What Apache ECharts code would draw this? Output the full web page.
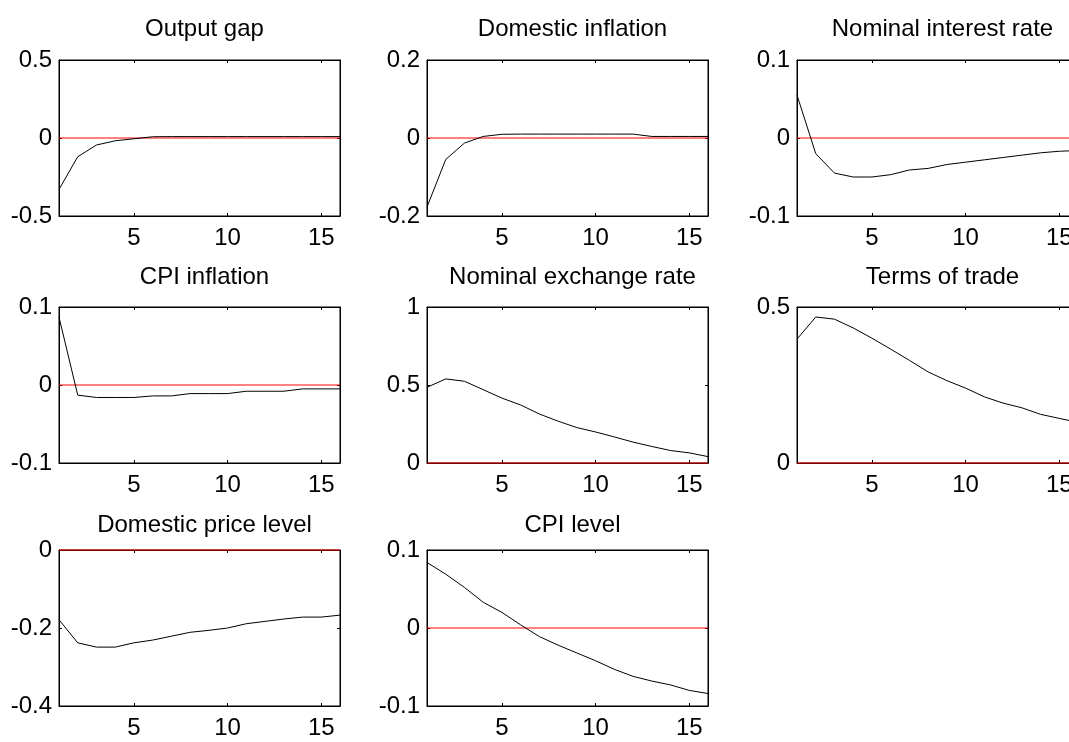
<!DOCTYPE html>
<html>
<head>
<meta charset="utf-8">
<script src="https://cdn.jsdelivr.net/npm/echarts@6.0.0/dist/echarts.min.js"></script>
<style>
  body { margin: 0; background: #fff; }
  #myChart { width: 1069px; height: 742px; }
</style>
</head>
<body>
<div id="myChart"></div>
<script>
  // impulse responses, periods 1..16
  var periods = [1, 2, 3, 4, 5, 6, 7, 8, 9, 10, 11, 12, 13, 14, 15, 16];
  var xTicks = [5, 10, 15];
  var zeroLevel = 0;

  var titles = ['Output gap', 'Domestic inflation', 'Nominal interest rate',
    'CPI inflation', 'Nominal exchange rate', 'Terms of trade',
    'Domestic price level', 'CPI level'];

  var outputGap = [-0.33, -0.12, -0.045, -0.018, -0.005, 0.008, 0.009, 0.009, 0.009, 0.009, 0.009, 0.009, 0.009, 0.009, 0.009, 0.009];
  var domesticInflation = [-0.177, -0.055, -0.013, 0.004, 0.0095, 0.01, 0.01, 0.01, 0.01, 0.01, 0.01, 0.01, 0.004, 0.004, 0.004, 0.004];
  var nominalRate = [0.055, -0.020, -0.045, -0.050, -0.050, -0.047, -0.041, -0.039, -0.034, -0.031, -0.028, -0.025, -0.022, -0.019, -0.017, -0.016];
  var cpiInflation = [0.087, -0.013, -0.016, -0.016, -0.016, -0.014, -0.014, -0.011, -0.011, -0.011, -0.008, -0.008, -0.008, -0.005, -0.005, -0.005];
  var exchangeRate = [0.485, 0.539, 0.524, 0.47, 0.416, 0.372, 0.314, 0.268, 0.227, 0.199, 0.167, 0.134, 0.106, 0.080, 0.065, 0.041];
  var termsOfTrade = [0.397, 0.468, 0.461, 0.433, 0.400, 0.365, 0.329, 0.292, 0.264, 0.240, 0.212, 0.192, 0.177, 0.156, 0.143, 0.13];
  var domesticPrice = [-0.179, -0.238, -0.249, -0.249, -0.238, -0.231, -0.221, -0.211, -0.206, -0.2, -0.189, -0.183, -0.177, -0.172, -0.172, -0.167];
  var cpiLevel = [0.084, 0.069, 0.052, 0.033, 0.020, 0.004, -0.011, -0.022, -0.032, -0.042, -0.053, -0.062, -0.068, -0.073, -0.080, -0.084];

  var allSeries = [outputGap, domesticInflation, nominalRate, cpiInflation,
    exchangeRate, termsOfTrade, domesticPrice, cpiLevel];

  var yMin = [-0.5, -0.2, -0.1, -0.1, 0, 0, -0.4, -0.1];
  var yMax = [0.5, 0.2, 0.1, 0.1, 1, 0.5, 0, 0.1];
  var yStep = [0.5, 0.2, 0.1, 0.1, 0.5, 0.5, 0.2, 0.1];

  // subplot layout (pixels)
  var colLeft = [59, 427, 797];
  var rowTop = [60, 307, 550];
  var boxW = 281;
  var boxH = 156;
  var titleTop = [12, 260, 508];

  var font = "'Liberation Sans', Arial, sans-serif";
  var grids = [], xAxes = [], yAxes = [], series = [], titleList = [];

  for (var i = 0; i < allSeries.length; i++) {
    var r = Math.floor(i / 3), c = i % 3;
    grids.push({
      left: colLeft[c], top: rowTop[r], width: boxW, height: boxH,
      outerBoundsMode: 'none', containLabel: false,
      show: true, borderColor: '#000', borderWidth: 1, backgroundColor: '#fff'
    });
    titleList.push({
      text: titles[i],
      left: colLeft[c] + boxW / 2,
      top: titleTop[r],
      textAlign: 'center',
      textStyle: {fontFamily: font, fontSize: 24, fontWeight: 'normal', color: '#000'}
    });
    // bottom and top x axes
    ['bottom', 'top'].forEach(function (pos) {
      xAxes.push({
        type: 'value', gridIndex: i, position: pos, min: 1, max: 16,
        axisLine: {show: true, onZero: false, lineStyle: {color: '#000', width: 1}},
        axisTick: {show: true, inside: true, length: 3, customValues: xTicks, lineStyle: {color: '#000'}},
        axisLabel: {show: pos === 'bottom', customValues: xTicks, margin: 10,
          fontFamily: font, fontSize: 24, color: '#000'},
        splitLine: {show: false}
      });
    });
    ['left', 'right'].forEach(function (pos) {
      yAxes.push({
        type: 'value', gridIndex: i, position: pos,
        min: yMin[i], max: yMax[i], interval: yStep[i],
        axisLine: {show: true, onZero: false, lineStyle: {color: '#000', width: 1}},
        axisTick: {show: true, inside: true, length: 3, lineStyle: {color: '#000'}},
        axisLabel: {show: pos === 'left', margin: 7, fontFamily: font, fontSize: 24, color: '#000'},
        splitLine: {show: false}
      });
    });
    var pts = [];
    for (var k = 0; k < periods.length; k++) {
      pts.push([periods[k], allSeries[i][k]]);
    }
    // red zero reference line
    series.push({
      name: titles[i] + ' zero', type: 'line',
      xAxisIndex: i * 2, yAxisIndex: i * 2,
      data: [[periods[0], zeroLevel], [periods[periods.length - 1], zeroLevel]],
      showSymbol: false, symbol: 'none', clip: false, silent: true, z: 3,
      lineStyle: {color: '#ff0000', width: 1}
    });
    series.push({
      name: titles[i], type: 'line',
      xAxisIndex: i * 2, yAxisIndex: i * 2,
      data: pts, showSymbol: false, symbol: 'none', z: 4,
      lineStyle: {color: '#000', width: 1}
    });
  }

  var myChart = echarts.init(document.getElementById('myChart'));
  myChart.setOption({
    animation: false,
    backgroundColor: '#fff',
    title: titleList,
    grid: grids,
    xAxis: xAxes,
    yAxis: yAxes,
    series: series
  });
</script>
</body>
</html>
